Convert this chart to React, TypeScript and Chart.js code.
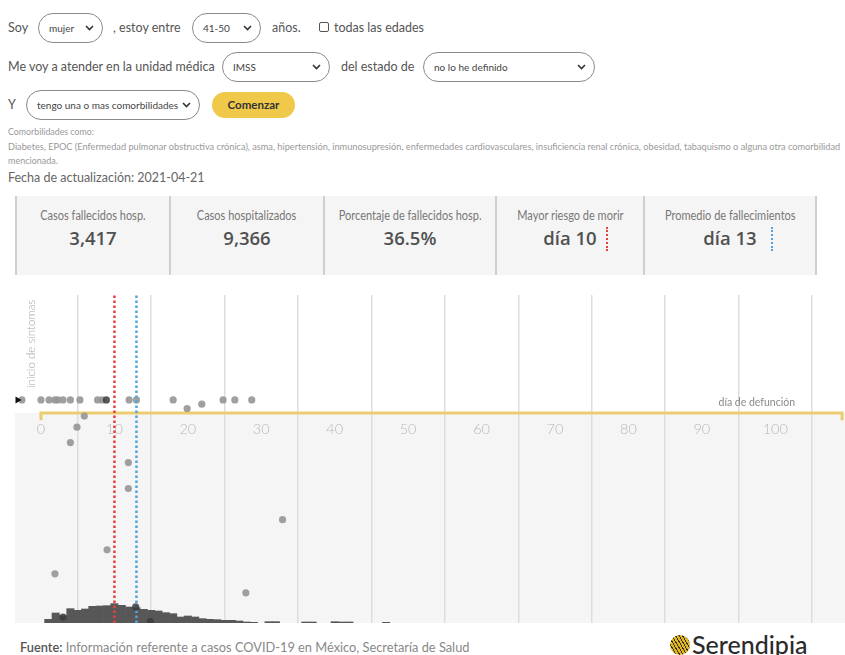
import React, { useEffect, useRef } from "react";
import { Chart, registerables } from "chart.js";

Chart.register(...registerables);

// ---------------- data ----------------
const X_TICKS = [0, 10, 20, 30, 40, 50, 60, 70, 80, 90, 100];
const X_MIN = -3.54;
const X_MAX = 109.5;

// histogram: deaths per day after hospitalisation
const HIST_DAYS = [1, 2, 3, 4, 5, 6, 7, 8, 9, 10, 11, 12, 13, 14, 15, 16, 17, 18, 19, 20, 21, 22, 23, 24, 25, 26, 27, 28, 29, 31, 32, 36, 37, 40, 41, 42, 47];
const HIST_COUNTS = [44, 120, 88, 172, 152, 168, 200, 204, 208, 232, 212, 192, 184, 164, 152, 144, 124, 112, 72, 84, 72, 52, 44, 40, 32, 32, 24, 12, 8, 16, 16, 12, 12, 16, 12, 12, 8];

// falling dots (day, vertical position 0-100)
const DOT_DAYS = [-2.6, 0, 1.1, 1.9, 2.3, 3, 4, 5.3, 7.7, 8.3, 12, 13, 18, 24.8, 26.4, 28.7, 19.9, 21.9, 5.9, 4.9, 4, 11.9, 11.9, 32.9, 9, 1.9, 27.9];
const DOT_POS = [68, 68, 68, 68, 68, 68, 68, 68, 68, 68, 68, 68, 68, 68, 68, 68, 65.4, 66.7, 63.1, 59.7, 55, 48.9, 41, 31.5, 22.3, 15, 9.2];
const DARK_DAYS = [8.9, 3, 12.9, 14.9];
const DARK_POS = [68, 1.8, 4.9, 0.4];
const MARKER_DAY = [-3.2];
const MARKER_POS = [68];

const PEAK_DAY = 10;
const MEAN_DAY = 13;
const BASELINE_POS = 64;
const BASELINE_END = 109.1;
const BASELINE_TICK = 61.8;

const CARD_TITLES = ["Casos fallecidos hosp.", "Casos hospitalizados", "Porcentaje de fallecidos hosp.", "Mayor riesgo de morir", "Promedio de fallecimientos"];
const CARD_VALUES = ["3,417", "9,366", "36.5%", "día 10", "día 13"];
const CARD_EDGES = [16, 170, 324, 496, 644, 816];

const RED = "#e8413c";
const BLUE = "#4ea6dc";
const GOLD = "rgb(236,204,112)";

function DeathChart() {
  const ref = useRef<HTMLCanvasElement>(null);
  useEffect(() => {
    const canvas = ref.current!;
    const bgPlugin = {
      id: "bgPlugin",
      beforeDraw(chart: any) {
        const { ctx, chartArea, scales } = chart;
        const y = scales.y.getPixelForValue(BASELINE_POS);
        ctx.save();
        ctx.fillStyle = "#f5f5f5";
        ctx.fillRect(chartArea.left, y, chartArea.right - chartArea.left, chartArea.bottom - y);
        ctx.restore();
      },
      afterDraw(chart: any) {
        const { ctx, scales } = chart;
        ctx.save();
        ctx.fillStyle = "#a8a8a8";
        ctx.font = "300 11.5px Lato, 'Open Sans', sans-serif";
        ctx.translate(16, 93);
        ctx.rotate(-Math.PI / 2);
        ctx.textAlign = "left";
        ctx.textBaseline = "middle";
        ctx.fillText("inicio de síntomas", 0, 0);
        ctx.restore();
        ctx.save();
        ctx.fillStyle = "#888888";
        ctx.font = "10.5px Lato, 'Open Sans', sans-serif";
        ctx.textAlign = "right";
        ctx.textBaseline = "middle";
        ctx.fillText("día de defunción", scales.x.getPixelForValue(102.7), scales.y.getPixelForValue(67.2));
        ctx.restore();
      },
    };
    const chart = new Chart(canvas, {
      type: "bar",
      data: {
        datasets: [
          {
            type: "bar",
            data: HIST_DAYS.map((d, i) => ({ x: d, y: HIST_COUNTS[i] })),
            yAxisID: "yh",
            backgroundColor: "#575757",
            borderWidth: 0,
            barPercentage: 1,
            categoryPercentage: 1,
            order: 6,
          } as any,
          {
            type: "line",
            data: [
              { x: 0, y: BASELINE_TICK },
              { x: 0, y: BASELINE_POS },
              { x: BASELINE_END, y: BASELINE_POS },
              { x: BASELINE_END, y: BASELINE_TICK },
            ],
            yAxisID: "y",
            borderColor: GOLD,
            borderWidth: 3,
            pointRadius: 0,
            fill: false,
            order: 5,
          },
          {
            type: "scatter",
            data: DOT_DAYS.map((d, i) => ({ x: d, y: DOT_POS[i] })),
            yAxisID: "y",
            backgroundColor: "rgba(150,150,150,0.9)",
            borderWidth: 0,
            pointRadius: 3.6,
            order: 4,
          },
          {
            type: "line",
            data: [{ x: PEAK_DAY, y: 0 }, { x: PEAK_DAY, y: 100 }],
            yAxisID: "y",
            borderColor: RED,
            borderWidth: 2.5,
            borderDash: [2.5, 2.5],
            pointRadius: 0,
            order: 3,
          },
          {
            type: "line",
            data: [{ x: MEAN_DAY, y: 0 }, { x: MEAN_DAY, y: 100 }],
            yAxisID: "y",
            borderColor: BLUE,
            borderWidth: 2.5,
            borderDash: [2.5, 2.5],
            pointRadius: 0,
            order: 3,
          },
          {
            type: "scatter",
            data: DARK_DAYS.map((d, i) => ({ x: d, y: DARK_POS[i] })),
            yAxisID: "y",
            backgroundColor: "rgba(60,60,60,0.85)",
            borderWidth: 0,
            pointRadius: 3.6,
            order: 1,
          },
          {
            type: "scatter",
            data: MARKER_DAY.map((d, i) => ({ x: d, y: MARKER_POS[i] })),
            yAxisID: "y",
            backgroundColor: "#111",
            borderWidth: 0,
            pointStyle: "triangle",
            rotation: 90,
            pointRadius: 4,
            order: 1,
          },
        ],
      },
      options: {
        animation: false,
        responsive: false,
        devicePixelRatio: 1,
        layout: { padding: 0, autoPadding: false },
        events: [],
        plugins: { legend: { display: false }, tooltip: { enabled: false } },
        scales: {
          x: {
            type: "linear",
            min: X_MIN,
            max: X_MAX,
            offset: false,
            position: { y: BASELINE_POS } as any,
            afterBuildTicks: (s: any) => {
              s.ticks = X_TICKS.map((v) => ({ value: v }));
            },
            grid: { color: "#dddddd", lineWidth: 1.5, drawTicks: false },
            border: { display: false },
            ticks: {
              color: "#b8b8b8",
              font: { family: "Lato, 'Open Sans', sans-serif", size: 14.5, weight: "300" as any },
              padding: 8,
              autoSkip: false,
              maxRotation: 0,
              showLabelBackdrop: true,
              backdropColor: "#f5f5f5",
              backdropPadding: 2,
            } as any,
          },
          y: { type: "linear", min: 0, max: 100, display: false },
          yh: { type: "linear", min: 0, max: 3936, display: false },
        },
      },
      plugins: [bgPlugin],
    } as any);
    return () => chart.destroy();
  }, []);
  return <canvas ref={ref} width={830} height={328} style={{ position: "absolute", left: 15, top: 295, width: 830, height: 328 }} />;
}

function Chevron() {
  return (
    <svg width="9" height="6" viewBox="0 0 9 6" style={{ position: "absolute", right: 8, top: "50%", marginTop: -3 }}>
      <path d="M1 1 L4.5 4.5 L8 1" fill="none" stroke="#333" strokeWidth="1.6" />
    </svg>
  );
}

function Pill({ x, y, w, h, text }: { x: number; y: number; w: number; h: number; text: string }) {
  return (
    <div
      style={{
        position: "absolute",
        left: x,
        top: y,
        width: w,
        height: h,
        boxSizing: "border-box",
        border: "1px solid #8a8a8a",
        borderRadius: h / 2,
        fontSize: 10,
        color: "#444",
        lineHeight: `${h - 2}px`,
        paddingLeft: 10,
        whiteSpace: "nowrap",
      }}
    >
      {text}
      <Chevron />
    </div>
  );
}

function T({ x, y, size, color, children, weight }: any) {
  return (
    <div style={{ position: "absolute", left: x, top: y, fontSize: size, color, fontWeight: weight || 400, whiteSpace: "nowrap", lineHeight: `${Math.round(size * 1.25)}px` }}>
      {children}
    </div>
  );
}

export default function App() {
  return (
    <div style={{ position: "relative", width: 845, height: 655, overflow: "hidden", background: "#fff", fontFamily: "Lato, 'Open Sans', sans-serif" }}>
      <style>{`body{margin:0;}`}</style>
      {/* row 1 */}
      <T x={8} y={20} size={12.5} color="#555">Soy</T>
      <Pill x={38} y={13} w={65} h={30} text="mujer" />
      <T x={113} y={20} size={12.5} color="#555">, estoy entre</T>
      <Pill x={192} y={13} w={69} h={30} text="41-50" />
      <T x={272} y={20} size={12.5} color="#555">años.</T>
      <div style={{ position: "absolute", left: 319, top: 22, width: 10, height: 10, boxSizing: "border-box", border: "1px solid #555", borderRadius: 2 }} />
      <T x={334} y={20} size={12.5} color="#555">todas las edades</T>
      {/* row 2 */}
      <T x={8} y={59} size={12.5} color="#555">Me voy a atender en la unidad médica</T>
      <Pill x={222} y={52} w={108} h={30} text="IMSS" />
      <T x={341} y={59} size={12.5} color="#555">del estado de</T>
      <Pill x={423} y={52} w={172} h={30} text="no lo he definido" />
      {/* row 3 */}
      <T x={8} y={97} size={12.5} color="#555">Y</T>
      <Pill x={26} y={90} w={174} h={30} text="tengo una o mas comorbilidades" />
      <div style={{ position: "absolute", left: 212, top: 92, width: 83, height: 26, borderRadius: 13, background: "#f0c94b", color: "#333", fontWeight: 700, fontSize: 11.5, textAlign: "center", lineHeight: "26px" }}>Comenzar</div>
      {/* notes */}
      <T x={8} y={126} size={8.8} color="#999">Comorbilidades como:</T>
      <T x={8} y={141} size={9.2} color="#999">Diabetes, EPOC (Enfermedad pulmonar obstructiva crónica), asma, hipertensión, inmunosupresión, enfermedades cardiovasculares, insuficiencia renal crónica, obesidad, tabaquismo o alguna otra comorbilidad</T>
      <T x={8} y={155} size={9} color="#999">mencionada.</T>
      <T x={8} y={170} size={12.5} color="#666">Fecha de actualización: 2021-04-21</T>
      {/* cards */}
      <div style={{ position: "absolute", left: CARD_EDGES[0], top: 196, width: CARD_EDGES[5] - CARD_EDGES[0], height: 79, background: "#f5f5f5" }} />
      {CARD_EDGES.map((x, i) => (
        <div key={"e" + i} style={{ position: "absolute", left: x - 0.75, top: 196, width: 1.5, height: 79, background: "#cfcfcf" }} />
      ))}
      {CARD_TITLES.map((t, i) => (
        <div key={"c" + i} style={{ position: "absolute", left: CARD_EDGES[i], width: CARD_EDGES[i + 1] - CARD_EDGES[i], top: 204, textAlign: "center" }}>
          <div style={{ display: "inline-block", transform: "scaleX(0.88)", fontSize: 12.5, color: "#777", lineHeight: "17px", whiteSpace: "nowrap" }}>{t}</div>
          <div style={{ fontFamily: "'Open Sans', Lato, sans-serif", fontSize: 18.5, fontWeight: 600, color: "#505050", lineHeight: "26px", marginTop: 1, whiteSpace: "nowrap" }}>
            <span style={{ position: "relative" }}>
              {CARD_VALUES[i]}
              {i >= 3 && (
                <span style={{ position: "absolute", left: "100%", top: 2, marginLeft: i === 3 ? 9 : 14, width: 0, height: 24, borderLeft: `2.5px dotted ${i === 3 ? RED : BLUE}` }} />
              )}
            </span>
          </div>
        </div>
      ))}
      <DeathChart />
      {/* footer */}
      <T x={20} y={639} size={12.8} color="#888"><span style={{ color: "#555", fontWeight: 600 }}>Fuente:</span> Información referente a casos COVID-19 en México, Secretaría de Salud</T>
      <div style={{ position: "absolute", left: 670, top: 635, width: 20, height: 20, borderRadius: 10, background: "repeating-linear-gradient(60deg, #e2b820 0px, #e2b820 2px, #3a3320 2px, #3a3320 3px)" }} />
      <div style={{ position: "absolute", left: 692, top: 628, fontSize: 25, fontWeight: 500, color: "#2b2b2b", lineHeight: "32px", fontFamily: "Lato, 'Open Sans', sans-serif" }}>Serendipia</div>
    </div>
  );
}
